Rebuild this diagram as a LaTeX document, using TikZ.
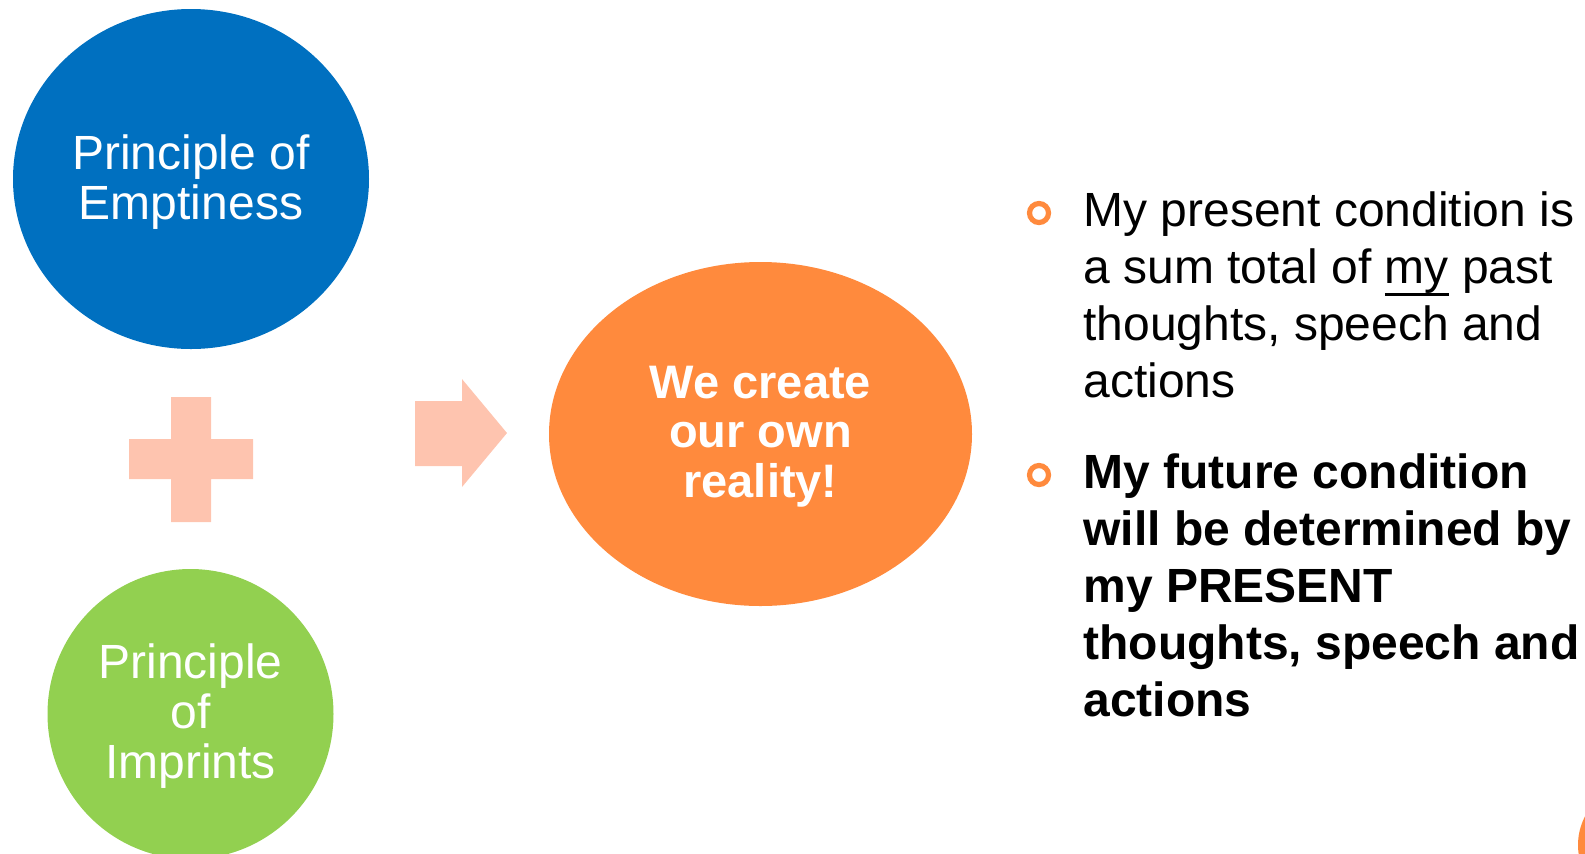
\documentclass[tikz,border=0pt]{standalone}
\usepackage{fontspec}
\setmainfont{Liberation Sans}
\usetikzlibrary{shapes.geometric}
\definecolor{cblue}{HTML}{0070C0}
\definecolor{cgreen}{HTML}{92D050}
\definecolor{corange}{HTML}{FF8A3D}
\definecolor{cpeach}{HTML}{FEC4AF}
\newcommand\thickul[1]{\leavevmode\setbox0\hbox{#1}\rlap{\raisebox{\dimexpr-\dp0-1.3pt\relax}{\rule{\wd0}{1.3pt}}}\box0\relax}
\begin{document}
\begin{tikzpicture}[x=0.5pt,y=-0.5pt,
  bubble/.style={ellipse, draw=none, inner sep=0pt},
  bubbletext/.style={align=center, text=white, inner sep=0pt, anchor=north, font=\fontsize{24}{25}\selectfont},
  boldtext/.style={align=center, text=white, inner sep=0pt, anchor=north, font=\fontsize{23.5}{24.75}\selectfont\bfseries},
  bullettext/.style={align=left, inner sep=0pt, anchor=north west, font=\fontsize{24}{28.5}\selectfont},
  ring/.style={draw=corange, line width=2.6pt},
  shapefill/.style={fill=cpeach, draw=none}]
\useasboundingbox (0,0) rectangle (1585,853);
\clip (0,0) rectangle (1585,853);
% circles
\node[bubble, fill=cblue, minimum width=178pt, minimum height=170pt] (emp) at (191,179) {};
\node[bubble, fill=cgreen, minimum width=143pt, minimum height=145pt] (imp) at (190.5,714) {};
\node[bubble, fill=corange, minimum width=211.5pt, minimum height=172pt] (real) at (760.5,434) {};
\node[bubbletext] (emptxt) at (191,134.5) {Principle of\\Emptiness};
\node[bubbletext] (imptxt) at (190.5,643.5) {Principle\\of\\Imprints};
\node[boldtext] (realtxt) at (760.5,365.5) {We create\\our own\\reality!};
% plus sign
\fill[shapefill] (129,439) -- (171,439) -- (171,397) -- (211,397) -- (211,439) -- (253,439)
  -- (253,479) -- (211,479) -- (211,522) -- (171,522) -- (171,479) -- (129,479) -- cycle;
% arrow
\fill[shapefill] (415,401) -- (462,401) -- (462,379) -- (507,433) -- (462,487) -- (462,466) -- (415,466) -- cycle;
% bullets
\draw[ring] (1039,213) circle[radius=9.5];
\draw[ring] (1039,475) circle[radius=9.5];
\node[bullettext] (b1) at (1083,191) {My present condition is\\a sum total of \thickul{my} past\\thoughts, speech and\\actions};
\node[bullettext, font=\fontsize{24}{28.5}\selectfont\bfseries] (b2) at (1083,453) {My future condition\\will be determined by\\my PRESENT\\thoughts, speech and\\actions};
% corner circle
\fill[corange] (1640,845) circle[radius=62];
\end{tikzpicture}
\end{document}
